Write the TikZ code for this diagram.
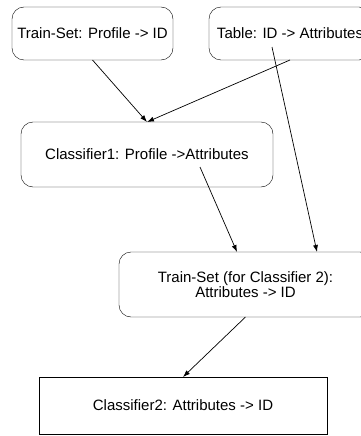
\documentclass[tikz,border=0pt]{standalone}
\usepackage{fontspec}
\setmainfont{Liberation Sans}
\usetikzlibrary{arrows.meta}

\begin{document}
\begin{tikzpicture}[x=1pt, y=-1pt,
    every node/.style={draw, align=center, inner sep=0pt, outer sep=0pt,
        font=\fontsize{15}{13}\selectfont},
    stepbox/.style={rounded corners=12pt, minimum height=53pt},
    flow/.style={-{Latex[length=7pt,width=5pt]}, line width=0.7pt}]
            \useasboundingbox (0,0) rectangle (361,436);
            \node[stepbox, minimum width=161pt] (trainset) at (92.5,33.5) {Train-Set: Profile -> ID};
            \node[stepbox, minimum width=162pt] (table) at (290,33.5) {Table: ID -> Attributes};
            \node[stepbox, minimum width=252pt, minimum height=65pt] (classone) at (147,154.5) {Classifier1: Profile ->Attributes};
            \node[stepbox, minimum width=253pt, minimum height=65pt] (trainsettwo) at (245.5,284.5) {Train-Set (for Classifier 2):\\Attributes -> ID};
            \node[minimum width=288pt, minimum height=57pt] (classtwo) at (183,405.5) {Classifier2: Attributes -> ID};
            \draw[flow] (trainset.south) -- (classone.north);
            \draw[flow] (table.south) -- (classone.north);
            \draw[flow] ([xshift=-18pt,yshift=-13.5pt]table.center) -- ([xshift=71.5pt]trainsettwo.north);
            \draw[flow] ([xshift=53pt,yshift=-12.5pt]classone.center) -- ([xshift=-8.5pt]trainsettwo.north);
            \draw[flow] (trainsettwo.south) -- (classtwo.north);
        \end{tikzpicture}
\end{document}
